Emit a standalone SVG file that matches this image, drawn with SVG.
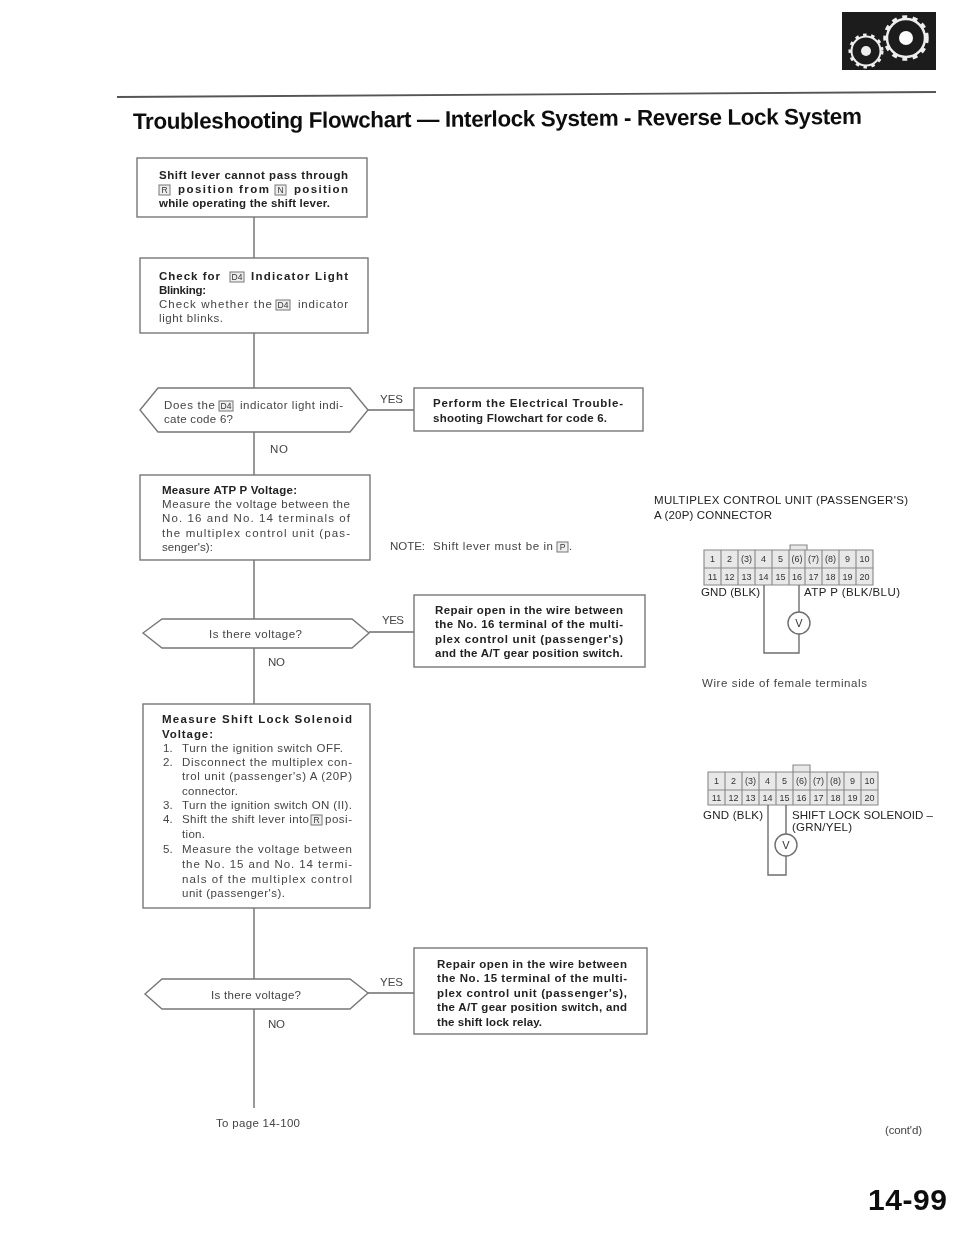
<svg xmlns="http://www.w3.org/2000/svg" width="960" height="1246" viewBox="0 0 960 1246">
<style>
text{font-family:"Liberation Sans",Arial,sans-serif;font-size:11.5px;fill:#444}
.b{font-weight:bold;fill:#222}
.t{font-size:22.5px;font-weight:bold;fill:#111}
.n{font-size:8.5px;fill:#333;text-anchor:middle}
.box,.hex,.bx{fill:#fff;stroke:#777;stroke-width:1.4}
.bx{stroke-width:1;fill:#eee}
.c{fill:none;stroke:#6e6e6e;stroke-width:1.4}
.g{fill:#e8e8e8;stroke:#888;stroke-width:1.1}
.m{font-size:9px;text-anchor:middle;fill:#333}
.d{fill:#222}
</style>
<defs><filter id="soft" x="0" y="0" width="100%" height="100%"><feGaussianBlur stdDeviation="0.6"/></filter></defs>
<rect width="960" height="1246" fill="#fff"/>
<g filter="url(#soft)">
<g id="header">
<rect x="842" y="12" width="94" height="58" fill="#1c1c1c"/>
<circle cx="866" cy="51" r="14.500" fill="none" stroke="#eee" stroke-width="2"/>
<circle cx="866" cy="51" r="16" fill="none" stroke="#eee" stroke-width="3" stroke-dasharray="3.500 4.500"/>
<circle cx="866" cy="51" r="5" fill="#eee"/>
<circle cx="906" cy="38" r="19" fill="none" stroke="#eee" stroke-width="2.500"/>
<circle cx="906" cy="38" r="21" fill="none" stroke="#eee" stroke-width="3.500" stroke-dasharray="5 5.500"/>
<circle cx="906" cy="38" r="7" fill="#fff"/>
<path d="M117 97L936 92" stroke="#555" stroke-width="1.800" fill="none"/>
<text class="t" x="133" y="129" textLength="729" transform="rotate(-0.4 133 129)">Troubleshooting Flowchart — Interlock System - Reverse Lock System</text>
</g>
<g id="connectors">
<path class="c" d="M254 217V258M254 333V388M254 432V475M254 560V619M254 648V704M254 908V979M254 1009V1108"/>
<path class="c" d="M368 410H414M369 632H414M368 993H414"/>
</g>
<g id="n1"><rect class="box" x="137" y="158" width="230" height="59"/>
<text class="b" x="159" y="179" textLength="189">Shift lever cannot pass through</text>
<rect class="bx" x="159" y="185" width="11" height="10"/><text class="n" x="164.500" y="193">R</text>
<text class="b" x="178" y="193" textLength="91">position from</text>
<rect class="bx" x="275" y="185" width="11" height="10"/><text class="n" x="280.500" y="193">N</text>
<text class="b" x="294" y="193" textLength="54">position</text>
<text class="b" x="159" y="207" textLength="171">while operating the shift lever.</text></g>
<g id="n2"><rect class="box" x="140" y="258" width="228" height="75"/>
<text class="b" x="159" y="280" textLength="61">Check for</text>
<rect class="bx" x="230" y="272" width="14" height="10"/><text class="n" x="237" y="280">D4</text>
<text class="b" x="251" y="280" textLength="97">Indicator Light</text>
<text class="b" x="159" y="294" textLength="47">Blinking:</text>
<text x="159" y="308" textLength="113">Check whether the</text>
<rect class="bx" x="276" y="300" width="14" height="10"/><text class="n" x="283" y="308">D4</text>
<text x="298" y="308" textLength="50">indicator</text>
<text x="159" y="322" textLength="64">light blinks.</text></g>
<g id="d1"><polygon class="hex" points="140,410 158,388 350,388 368,410 350,432 158,432"/>
<text x="164" y="409" textLength="51">Does the</text>
<rect class="bx" x="219" y="401" width="14" height="10"/><text class="n" x="226" y="409">D4</text>
<text x="240" y="409" textLength="103">indicator light indi-</text>
<text x="164" y="423" textLength="69">cate code 6?</text></g>
<g id="l1"><text x="380" y="403" textLength="23">YES</text><text x="270" y="453" textLength="18">NO</text></g>
<g id="r1"><rect class="box" x="414" y="388" width="229" height="43"/>
<text class="b" x="433" y="407" textLength="190">Perform the Electrical Trouble-</text>
<text class="b" x="433" y="422" textLength="174">shooting Flowchart for code 6.</text></g>
<g id="note"><text x="390" y="550" textLength="35">NOTE:</text>
<text x="433" y="550" textLength="120">Shift lever must be in</text>
<rect class="bx" x="557" y="542" width="11" height="10"/><text class="n" x="562.500" y="550">P</text>
<text x="569" y="550">.</text></g>
<g id="n3"><rect class="box" x="140" y="475" width="230" height="85"/>
<text class="b" x="162" y="494" textLength="135">Measure ATP P Voltage:</text>
<text x="162" y="508" textLength="188">Measure the voltage between the</text>
<text x="162" y="522" textLength="188">No. 16 and No. 14 terminals of</text>
<text x="162" y="537" textLength="188">the multiplex control unit (pas-</text>
<text x="162" y="551" textLength="51">senger's):</text></g>
<g id="d2"><polygon class="hex" points="143,633 162,619 352,619 369,633 352,648 162,648"/>
<text x="209" y="638" textLength="93">Is there voltage?</text></g>
<g id="l2"><text x="382" y="624" textLength="22">YES</text><text x="268" y="666" textLength="17">NO</text></g>
<g id="r2"><rect class="box" x="414" y="595" width="231" height="72"/>
<text class="b" x="435" y="614" textLength="188">Repair open in the wire between</text>
<text class="b" x="435" y="628" textLength="188">the No. 16 terminal of the multi-</text>
<text class="b" x="435" y="643" textLength="188">plex control unit (passenger's)</text>
<text class="b" x="435" y="657" textLength="188">and the A/T gear position switch.</text></g>
<g id="n4"><rect class="box" x="143" y="704" width="227" height="204"/>
<text class="b" x="162" y="723" textLength="190">Measure Shift Lock Solenoid</text>
<text class="b" x="162" y="738" textLength="51">Voltage:</text>
<text x="163" y="752">1.</text><text x="182" y="752" textLength="161">Turn the ignition switch OFF.</text>
<text x="163" y="766">2.</text><text x="182" y="766" textLength="170">Disconnect the multiplex con-</text>
<text x="182" y="780" textLength="170">trol unit (passenger's) A (20P)</text>
<text x="182" y="795" textLength="56">connector.</text>
<text x="163" y="809">3.</text><text x="182" y="809" textLength="170">Turn the ignition switch ON (II).</text>
<text x="163" y="823">4.</text><text x="182" y="823" textLength="127">Shift the shift lever into</text>
<rect class="bx" x="311" y="815" width="11" height="10"/><text class="n" x="316.500" y="823">R</text>
<text x="325" y="823" textLength="27">posi-</text>
<text x="182" y="838" textLength="23">tion.</text>
<text x="163" y="853">5.</text><text x="182" y="853" textLength="170">Measure the voltage between</text>
<text x="182" y="868" textLength="170">the No. 15 and No. 14 termi-</text>
<text x="182" y="883" textLength="170">nals of the multiplex control</text>
<text x="182" y="897" textLength="103">unit (passenger's).</text></g>
<g id="d3"><polygon class="hex" points="145,994 162,979 350,979 368,993 350,1009 162,1009"/>
<text x="211" y="999" textLength="90">Is there voltage?</text></g>
<g id="l3"><text x="380" y="986" textLength="23">YES</text><text x="268" y="1028" textLength="17">NO</text></g>
<g id="r3"><rect class="box" x="414" y="948" width="233" height="86"/>
<text class="b" x="437" y="968" textLength="190">Repair open in the wire between</text>
<text class="b" x="437" y="982" textLength="190">the No. 15 terminal of the multi-</text>
<text class="b" x="437" y="997" textLength="190">plex control unit (passenger's),</text>
<text class="b" x="437" y="1011" textLength="190">the A/T gear position switch, and</text>
<text class="b" x="437" y="1026" textLength="105">the shift lock relay.</text></g>
<g id="end"><text x="216" y="1127" textLength="84">To page 14-100</text></g>
<g id="conn-a">
<text x="654" y="504" textLength="254" style="fill:#222">MULTIPLEX CONTROL UNIT (PASSENGER'S)</text>
<text x="654" y="519" textLength="118" style="fill:#222">A (20P) CONNECTOR</text>
<path class="g" d="M790 550V545H807V550"/>
<path class="g" d="M704 550H873V585H704ZM704 568H873M721 550V585M738 550V585M755 550V585M772 550V585M789 550V585M805 550V585M822 550V585M839 550V585M856 550V585"/>
<text class="m" x="712.500" y="562">1</text><text class="m" x="729.500" y="562">2</text><text class="m" x="746.500" y="562">(3)</text><text class="m" x="763.500" y="562">4</text><text class="m" x="780.500" y="562">5</text><text class="m" x="797" y="562">(6)</text><text class="m" x="813.500" y="562">(7)</text><text class="m" x="830.500" y="562">(8)</text><text class="m" x="847.500" y="562">9</text><text class="m" x="864.500" y="562">10</text>
<text class="m" x="712.500" y="580">11</text><text class="m" x="729.500" y="580">12</text><text class="m" x="746.500" y="580">13</text><text class="m" x="763.500" y="580">14</text><text class="m" x="780.500" y="580">15</text><text class="m" x="797" y="580">16</text><text class="m" x="813.500" y="580">17</text><text class="m" x="830.500" y="580">18</text><text class="m" x="847.500" y="580">19</text><text class="m" x="864.500" y="580">20</text>
<text x="701" y="596" textLength="59" style="fill:#222">GND (BLK)</text>
<text x="804" y="596" textLength="96" style="fill:#222">ATP P (BLK/BLU)</text>
<path class="c" d="M764 585V653H799V634M799 612V585"/>
<circle class="c" cx="799" cy="623" r="11"/>
<text class="m" x="799" y="627" style="font-size:11px">V</text>
<text x="702" y="687" textLength="165">Wire side of female terminals</text>
</g>
<g id="conn-b">
<path class="g" d="M793 772V765H810V772"/>
<path class="g" d="M708 772H878V805H708ZM708 790H878M725 772V805M742 772V805M759 772V805M776 772V805M793 772V805M810 772V805M827 772V805M844 772V805M861 772V805"/>
<text class="m" x="716.500" y="784">1</text><text class="m" x="733.500" y="784">2</text><text class="m" x="750.500" y="784">(3)</text><text class="m" x="767.500" y="784">4</text><text class="m" x="784.500" y="784">5</text><text class="m" x="801.500" y="784">(6)</text><text class="m" x="818.500" y="784">(7)</text><text class="m" x="835.500" y="784">(8)</text><text class="m" x="852.500" y="784">9</text><text class="m" x="869.500" y="784">10</text>
<text class="m" x="716.500" y="801">11</text><text class="m" x="733.500" y="801">12</text><text class="m" x="750.500" y="801">13</text><text class="m" x="767.500" y="801">14</text><text class="m" x="784.500" y="801">15</text><text class="m" x="801.500" y="801">16</text><text class="m" x="818.500" y="801">17</text><text class="m" x="835.500" y="801">18</text><text class="m" x="852.500" y="801">19</text><text class="m" x="869.500" y="801">20</text>
<text x="703" y="819" textLength="60" style="fill:#222">GND (BLK)</text>
<text x="792" y="819" textLength="141" style="fill:#222">SHIFT LOCK SOLENOID –</text>
<text x="792" y="831" textLength="60" style="fill:#222">(GRN/YEL)</text>
<path class="c" d="M768 805V875H786V856M786 834V805"/>
<circle class="c" cx="786" cy="845" r="11"/>
<text class="m" x="786" y="849" style="font-size:11px">V</text>
</g>
<g id="footer">
<text x="885" y="1134" textLength="37">(cont'd)</text>
<text x="868" y="1210" textLength="79" style="font-size:30px;font-weight:bold;fill:#111">14-99</text>
</g>
</g>
</svg>
